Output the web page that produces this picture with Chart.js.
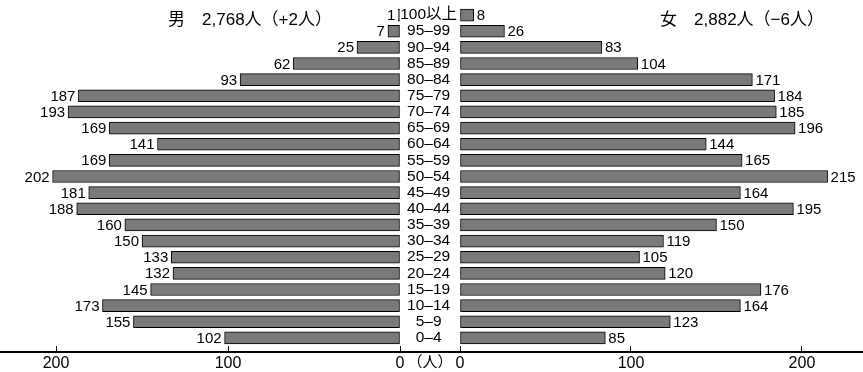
<!DOCTYPE html>
<html>
<head>
<meta charset="utf-8">
<script src="https://cdn.jsdelivr.net/npm/chart.js@4.4.0/dist/chart.umd.min.js"></script>
<style>
html, body { margin: 0; padding: 0; background: #fff; }
#wrap { position: relative; width: 863px; height: 372px; overflow: hidden; }
#wrap canvas { position: absolute; top: 0; }
#leftChart { left: 0; }
#rightChart { left: 400px; }
</style>
</head>
<body>
<div id="wrap">
  <canvas id="leftChart" width="430" height="372"></canvas>
  <canvas id="rightChart" width="463" height="372"></canvas>
</div>
<script>
'use strict';
/* ---------------------------------------------------------------- DATA */
const ageGroups = ['100以上', '95–99', '90–94', '85–89', '80–84', '75–79', '70–74',
  '65–69', '60–64', '55–59', '50–54', '45–49', '40–44', '35–39', '30–34',
  '25–29', '20–24', '15–19', '10–14', '5–9', '0–4'];
const maleCounts = [1, 7, 25, 62, 93, 187, 193, 169, 141, 169, 202, 181, 188, 160, 150,
  133, 132, 145, 173, 155, 102];
const femaleCounts = [8, 26, 83, 104, 171, 184, 185, 196, 144, 165, 215, 164, 195, 150, 119,
  105, 120, 176, 164, 123, 85];
const tickValues = [0, 100, 200];
const maleTitle = '男　2,768人（+2人）';
const femaleTitle = '女　2,882人（−6人）';
const unitLabel = '（人）';

/* ---------------------------------------------------------------- STYLE */
const FONT = "'Liberation Sans', 'Noto Sans CJK JP', sans-serif";
Chart.defaults.font.family = FONT;
Chart.defaults.color = '#000';

const barFill = '#7a7a7a';

function keepTicks(scale){
  scale.ticks = tickValues.map(v => ({ value: v }));
}
//only 0, 100, 200 on the axis

function xScale(max, reverse){
  return {
    type: 'linear',
    min: 0,
    max: max,
    reverse: reverse,
    ticks: { padding: 2, font: { size: 16 } },
    grid: { display: true, drawOnChartArea: false, drawTicks: true, tickLength: 6, color: '#000', lineWidth: 1 },
    border: { display: false },
    afterBuildTicks: keepTicks,
    afterFit: s => { s.height = 26; }
  };
}

/* ---------------------------------------------------------------- PLUGINS */
const valueLabels = {
  id: 'valueLabels',
  afterDatasetsDraw(chart, args, opts){
    const ctx = chart.ctx;
    const meta = chart.getDatasetMeta(0);
    const values = chart.data.datasets[0].data;
    ctx.save();
    ctx.font = '15px ' + FONT;
    ctx.fillStyle = '#000';
    ctx.textBaseline = 'middle';
    ctx.textAlign = opts.side === 'left' ? 'right' : 'left';
    meta.data.forEach((bar, i) => {
      const x = opts.side === 'left' ? bar.x - 3 : bar.x + 3;
      ctx.fillText(String(values[i]), x, bar.y + 1);
    });
    ctx.restore();
  }
};

const axisDecor = {
  id: 'axisDecor',
  afterDraw(chart, args, opts){
    const ctx = chart.ctx;
    const y = chart.chartArea.bottom + 6;
    ctx.save();
    ctx.strokeStyle = '#000';
    ctx.lineWidth = 2;
    ctx.beginPath();
    ctx.moveTo(0, y);
    ctx.lineTo(opts.side === 'left' ? chart.chartArea.right : chart.width, y);
    ctx.stroke();
    ctx.fillStyle = '#000';
    ctx.textAlign = 'center';
    ctx.textBaseline = 'middle';
    ctx.font = '17px ' + FONT;
    ctx.fillText(opts.title, opts.titleX, 20);
    if (opts.unit){
      ctx.font = '15px ' + FONT;
      ctx.fillText(opts.unit, 30, 363);
    }
    ctx.restore();
  }
};

/* ---------------------------------------------------------------- CHARTS */
new Chart(document.getElementById('leftChart'), {
  type: 'bar',
  data: {
    labels: ageGroups,
    datasets: [{
      data: maleCounts,
      backgroundColor: barFill,
      borderColor: '#000',
      borderWidth: 1,
      borderSkipped: false,
      barThickness: 12
    }]
  },
  options: {
    indexAxis: 'y',
    responsive: false,
    animation: false,
    layout: { padding: { top: 7, right: 30, left: 0, bottom: 0 } },
    plugins: {
      legend: { display: false },
      tooltip: { enabled: false },
      valueLabels: { side: 'left' },
      axisDecor: { side: 'left', title: maleTitle, titleX: 250 }
    },
    scales: {
      x: xScale(232.6, true),
      y: { display: false, offset: true }
    }
  },
  plugins: [valueLabels, axisDecor]
});

new Chart(document.getElementById('rightChart'), {
  type: 'bar',
  data: {
    labels: ageGroups,
    datasets: [{
      data: femaleCounts,
      backgroundColor: barFill,
      borderColor: '#000',
      borderWidth: 1,
      borderSkipped: false,
      barThickness: 12
    }]
  },
  options: {
    indexAxis: 'y',
    responsive: false,
    animation: false,
    layout: { padding: { top: 7, right: 0, left: 0, bottom: 0 } },
    plugins: {
      legend: { display: false },
      tooltip: { enabled: false },
      valueLabels: { side: 'right' },
      axisDecor: { side: 'right', title: femaleTitle, titleX: 342, unit: unitLabel }
    },
    scales: {
      x: xScale(235.7, false),
      y: {
        offset: true,
        grid: { display: false },
        border: { display: false },
        ticks: { crossAlign: 'center', padding: -5, autoSkip: false, font: { size: 15.5 } },
        afterFit: s => { s.width = 60; s.paddingTop = 0; s.paddingBottom = 0; }
      }
    }
  },
  plugins: [valueLabels, axisDecor]
});
</script>
</body>
</html>
